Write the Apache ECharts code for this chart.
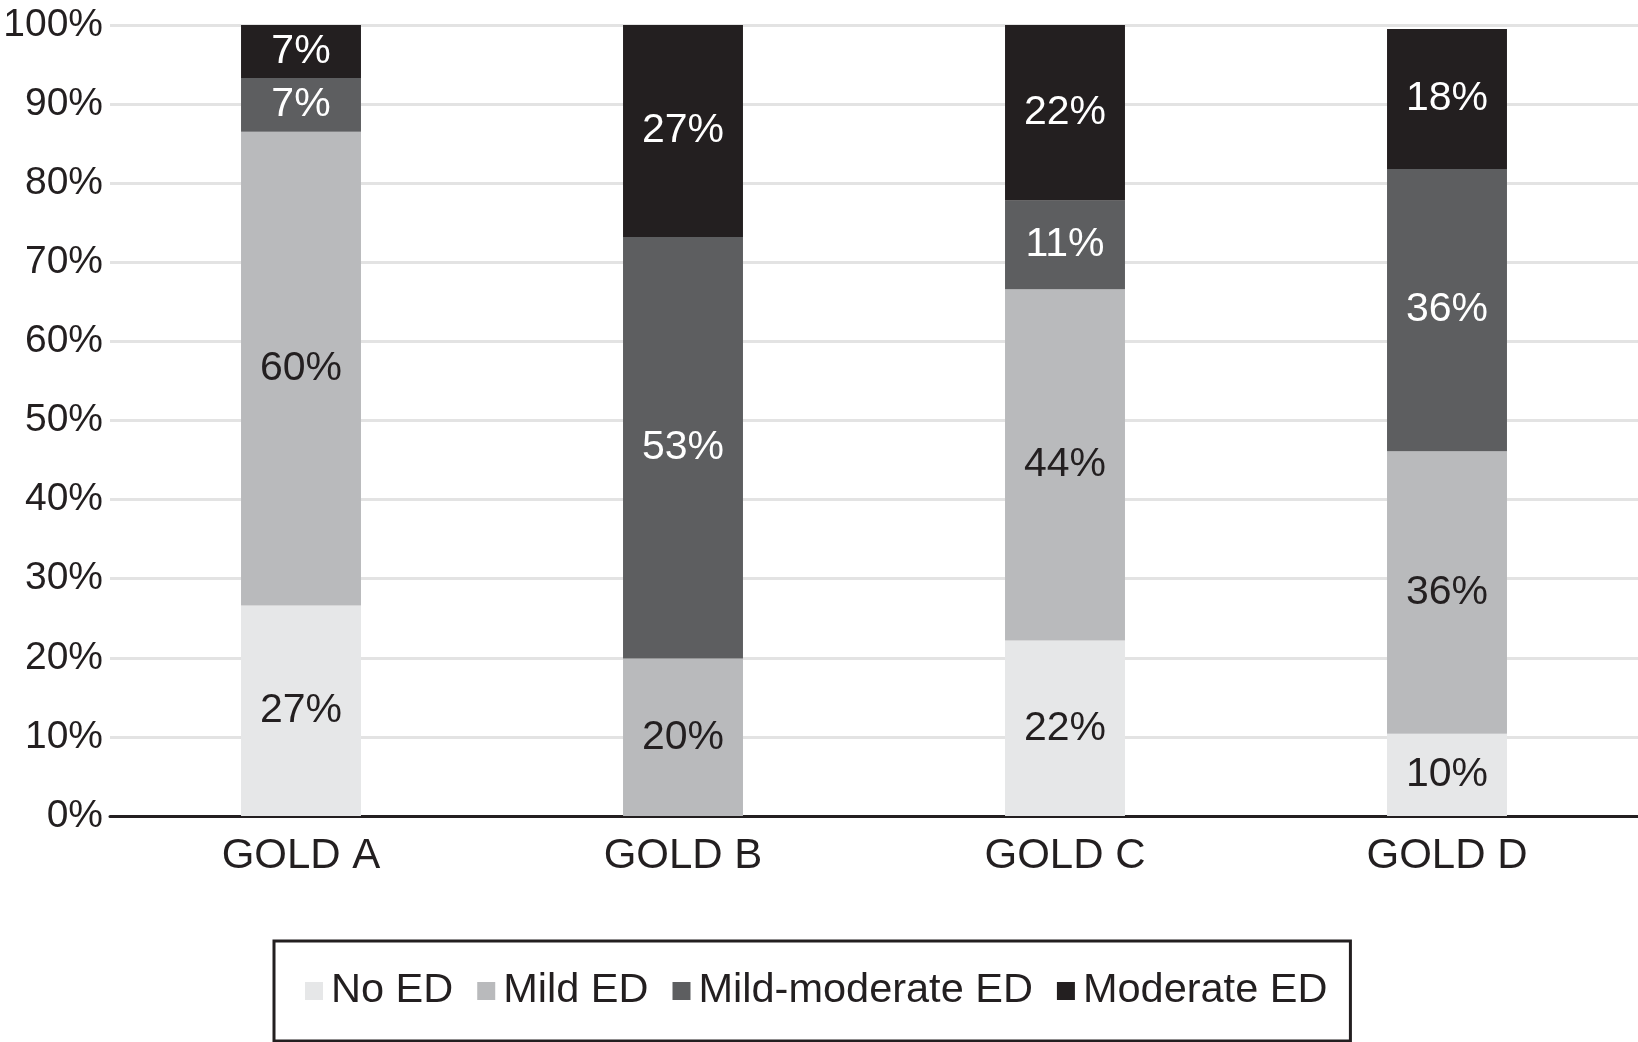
<!DOCTYPE html>
<html>
<head>
<meta charset="utf-8">
<script src="https://cdn.jsdelivr.net/npm/echarts@6/dist/echarts.min.js"></script>
<style>
html,body{margin:0;padding:0;background:#fff;}
#chart{width:1638px;height:1042px;}
</style>
</head>
<body>
<div id="chart"></div>
<script>
var categories = ['GOLD A', 'GOLD B', 'GOLD C', 'GOLD D'];
var seriesNames = ['No ED', 'Mild ED', 'Mild-moderate ED', 'Moderate ED'];
var noED = [26.6, 0, 22.2, 10.4];
var mildED = [59.9, 19.9, 44.4, 35.7];
var mildModerateED = [6.8, 53.3, 11.2, 35.7];
var moderateED = [6.7, 26.8, 22.2, 17.7];
var yTicks = [0, 10, 20, 30, 40, 50, 60, 70, 80, 90, 100];

var colors = ['#e6e7e8', '#b9babc', '#5d5e60', '#231f20'];
var labelColors = ['#231f20', '#231f20', '#ffffff', '#ffffff'];
var allData = [noED, mildED, mildModerateED, moderateED];
var FONT = '"Liberation Sans", Arial, Helvetica, sans-serif';

var series = seriesNames.map(function (name, i) {
  return {
    name: name,
    type: 'bar',
    stack: 'total',
    barWidth: '31.4%',
    data: allData[i].map(function (v) { return v === 0 ? null : v; }),
    itemStyle: { color: colors[i] },
    label: {
      show: true,
      position: 'inside',
      color: labelColors[i],
      fontFamily: FONT,
      fontSize: 41,
      formatter: function (p) { return Math.round(p.value) + '%'; }
    },
    emphasis: { disabled: true }
  };
});

var chart = echarts.init(document.getElementById('chart'), null, { renderer: 'canvas' });
chart.setOption({
  animation: false,
  backgroundColor: '#ffffff',
  grid: { left: 110, right: 0, top: 25, bottom: 226, containLabel: false },
  xAxis: {
    type: 'category',
    data: categories,
    axisLine: { lineStyle: { color: '#231f20', width: 3 } },
    axisTick: { show: false },
    axisLabel: { color: '#231f20', fontFamily: FONT, fontSize: 42, margin: 19 }
  },
  yAxis: {
    type: 'value',
    min: yTicks[0],
    max: yTicks[yTicks.length - 1],
    interval: 10,
    axisLine: { show: false },
    axisTick: { show: false },
    splitLine: { lineStyle: { color: '#e3e3e3', width: 3 } },
    axisLabel: {
      color: '#231f20', fontFamily: FONT, fontSize: 39, margin: 7,
      formatter: function (v) { return v + '%'; }
    }
  },
  legend: {
    data: seriesNames,
    left: 274,
    top: 941,
    orient: 'horizontal',
    itemWidth: 18,
    itemHeight: 18,
    itemGap: 24,
    icon: 'rect',
    borderColor: '#231f20',
    borderWidth: 3,
    padding: [29, 23, 29, 31],
    textStyle: { color: '#231f20', fontFamily: FONT, fontSize: 41.5, padding: [0, 0, 0, 3] },
    selectedMode: false
  },
  series: series
});
</script>
</body>
</html>
